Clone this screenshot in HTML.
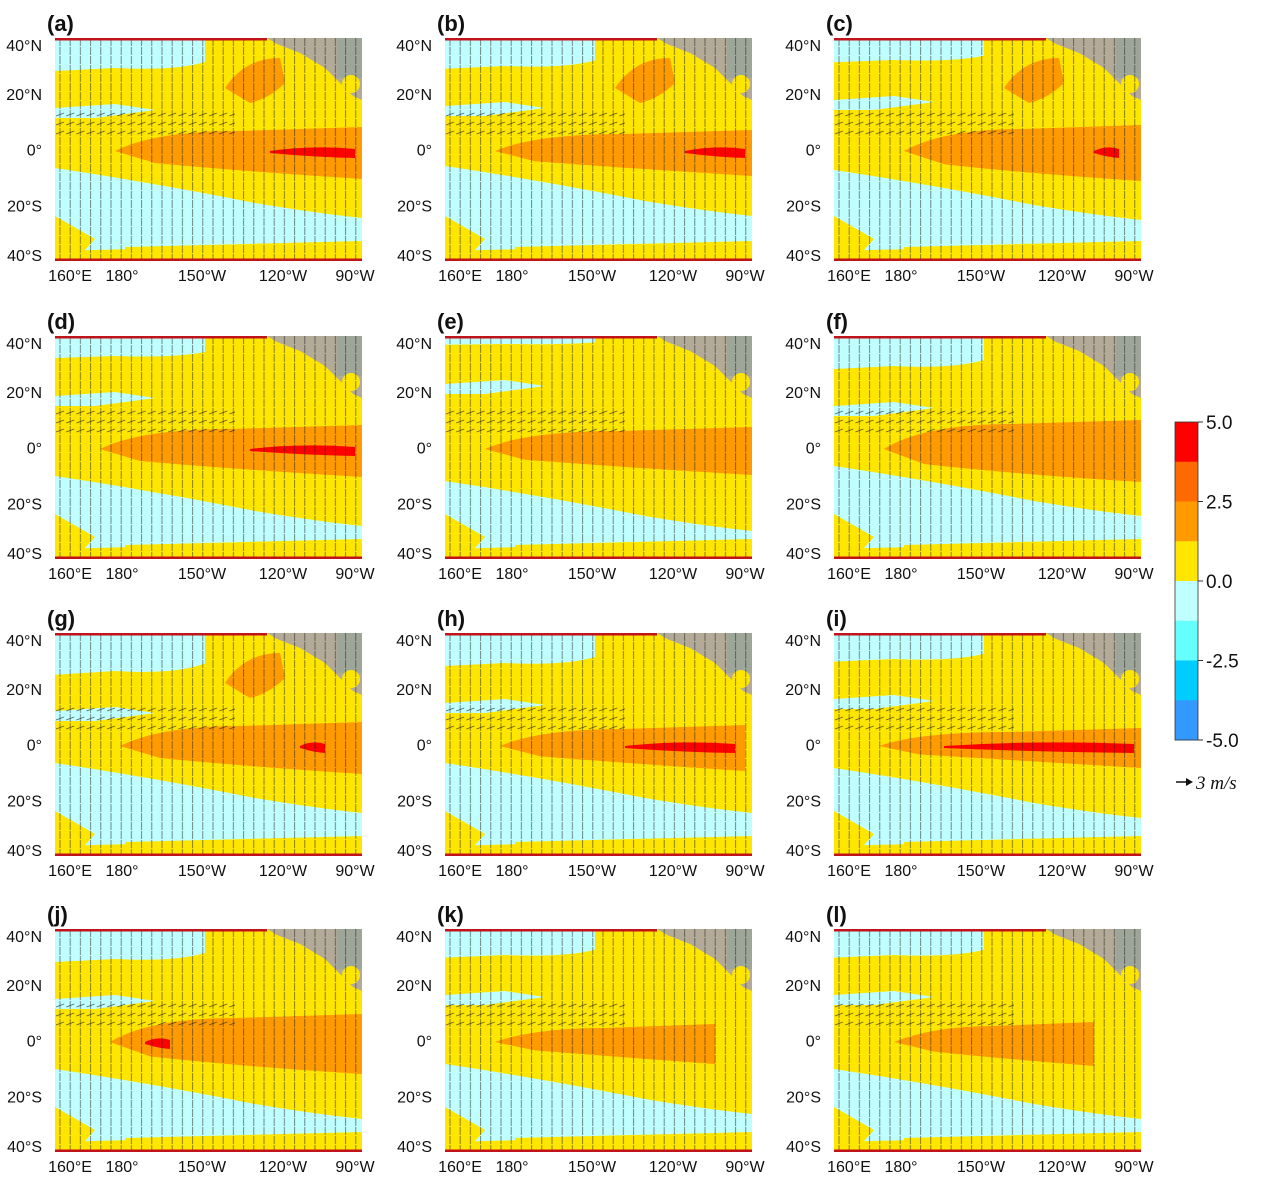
<!DOCTYPE html>
<html><head><meta charset="utf-8">
<style>
body{margin:0;background:#fff;width:1263px;height:1185px;overflow:hidden;font-family:"Liberation Sans",sans-serif}
svg{position:absolute;left:0;top:0}
</style></head>
<body>
<svg id="fig" width="1263" height="1185" xmlns="http://www.w3.org/2000/svg">
<defs>
<pattern id="vticks" width="10.2" height="9" patternUnits="userSpaceOnUse">
<line x1="5" y1="0" x2="5" y2="8" stroke="#222" stroke-width="0.9"/>
</pattern>
<pattern id="hticks" width="10.2" height="9" patternUnits="userSpaceOnUse">
<line x1="1" y1="6" x2="9" y2="3" stroke="#222" stroke-width="0.9"/>
</pattern>
</defs>
</svg>
<script>
// panel data
const panelLabels=['(a)','(b)','(c)','(d)','(e)','(f)','(g)','(h)','(i)','(j)','(k)','(l)'];
const bandStart=[60,50,70,45,40,50,65,55,45,55,50,60];
const bandEnd=[307,307,307,307,307,307,307,300,307,307,270,260];
const bandHalf=[20,17,22,20,18,25,20,17,14,24,14,16];
const redStart=[215,240,260,195,0,0,245,180,110,90,0,0];
const redEnd=[300,300,285,300,0,0,270,290,300,115,0,0];
const neBlob=[1,1,1,0,0,0,1,0,0,0,0,0];
const northCyan=[30,28,22,20,8,30,38,30,26,30,26,26];
const southCyan=[150,148,152,160,165,150,150,150,155,160,155,160];
const latTicks=['40°N','20°N','0°','20°S','40°S'];
const lonTicks=['160°E','180°','150°W','120°W','90°W'];
const lonTickPos=[15,67,147,228,300];
const cbLabels=['5.0','2.5','0.0','-2.5','-5.0'];
const cbColors=['#ff0000','#ff6a00','#ff9a00','#ffe600','#c0ffff','#66ffff','#00ccff','#3399ff'];

const NS='http://www.w3.org/2000/svg';
const fig=document.getElementById('fig');
function el(t,a,p){const e=document.createElementNS(NS,t);for(const k in a)e.setAttribute(k,a[k]);(p||fig).appendChild(e);return e;}
const colX=[55,445,834],rowY=[38,336,633,929],W=307,H=223;
const latY=v=>v/4*H;

panelLabels.forEach((lab,i)=>{
  const x0=colX[i%3],y0=rowY[Math.floor(i/3)];
  const g=el('g',{transform:`translate(${x0},${y0})`});
  
  
  el('rect',{x:0,y:0,width:W,height:H,fill:'#ffe600'},g);
  const n=northCyan[i];
  el('path',{d:`M0,0 L150,0 L150,${n*0.8} Q120,${n*1.1} 60,${n} L0,${n*1.1} Z`,fill:'#c0ffff'},g);
  el('path',{d:`M0,${n+40} L60,${n+36} L100,${n+42} L40,${n+50} L0,${n+50} Z`,fill:'#c0ffff'},g);
  const s=southCyan[i];
  el('path',{d:`M0,${s-20} Q100,${s-5} 200,${s+15} Q260,${s+25} ${W},${s+30} L${W},${H-18} L0,${H-10} Z`,fill:'#c0ffff'},g);
  el('path',{d:`M0,${H-45} L40,${H-22} L20,${H} L0,${H} Z`,fill:'#ffe600'},g);
  el('path',{d:`M70,${H-14} L${W},${H-20} L${W},${H} L70,${H} Z`,fill:'#ffe600'},g);
  const eq=113,bh=bandHalf[i],bs=bandStart[i],be=bandEnd[i];
  el('path',{d:`M${bs},${eq} Q${bs+40},${eq-bh} ${(bs+be)/2},${eq-bh} L${be},${eq-bh-4} L${be},${eq+bh+8} Q${(bs+be)/2},${eq+bh} ${bs+40},${eq+bh*0.6} Z`,fill:'#ff9a00'},g);
  if(redEnd[i]>0) el('path',{d:`M${redStart[i]},${eq} Q${(redStart[i]+redEnd[i])/2},${eq-6} ${redEnd[i]},${eq-2} L${redEnd[i]},${eq+7} Q${(redStart[i]+redEnd[i])/2},${eq+6} ${redStart[i]},${eq+2} Z`,fill:'#ff0000'},g);
  if(neBlob[i]) el('path',{d:'M170,50 Q190,20 225,20 L230,45 Q215,60 195,65 Z',fill:'#ff9a00'},g);
  const land=el('path',{d:`M212,0 L${W},0 L${W},62 L298,58 L285,45 L270,30 L245,15 L222,6 Z`,fill:'#b3aa98'},g);
  
  
  el('rect',{x:282,y:0,width:25,height:40,fill:'#8fa49a',opacity:0.6},g);
  el('circle',{cx:296,cy:46,r:9,fill:'#ffe600'},g);
  el('rect',{x:0,y:0,width:W,height:H,fill:'url(#vticks)',opacity:0.6},g);
  el('rect',{x:0,y:70,width:180,height:30,fill:'url(#hticks)',opacity:0.7},g);
  el('rect',{x:0,y:0,width:212,height:2.5,fill:'#c0141a'},g);
  el('rect',{x:0,y:H-2.5,width:W,height:2.5,fill:'#c0141a'},g);
  const t=el('text',{x:-8,y:-7,'font-size':22,'font-weight':'bold',fill:'#111'},g);
  t.textContent=lab;
  
  
  latTicks.forEach((lt,k)=>{
    const tt=el('text',{x:-13,y:latY(k)+(k==0?13:k==4?0:6),'font-size':16,'text-anchor':'end',fill:'#111'},g);
    tt.textContent=lt;
    
    
  });
  lonTicks.forEach((lt,k)=>{
    const tt=el('text',{x:lonTickPos[k],y:H+20,'font-size':16,'text-anchor':'middle',fill:'#111'},g);
    tt.textContent=lt;
    
    
  });
});
const cb=el('g',{});


const cbTop=422,cbH=318,cbX=1175;
cbColors.forEach((c,k)=>{el('rect',{x:cbX,y:cbTop+k*cbH/cbColors.length,width:23,height:cbH/cbColors.length+0.5,fill:c},cb);});
el('rect',{x:cbX,y:cbTop,width:23,height:cbH,fill:'none',stroke:'#333','stroke-width':0.8},cb);
cbLabels.forEach((l,k)=>{
  const y=cbTop+k*cbH/4;
  el('line',{x1:cbX+23,x2:cbX+28,y1:y,y2:y,stroke:'#333'},cb);
  const t=el('text',{x:cbX+31,y:y+7,'font-size':19,fill:'#111'},cb);
  t.textContent=l;
  
  
});
const ref=el('g',{});


el('line',{x1:1176,y1:782,x2:1190,y2:782,stroke:'#111','stroke-width':1.5},ref);
el('path',{d:'M1193,782 L1186,778 L1186,786 Z',fill:'#111'},ref);
const rt=el('text',{x:1196,y:789,'font-size':19,'font-style':'italic','font-family':'Liberation Serif, serif',fill:'#111'},ref);
rt.textContent='3 m/s';
</script>
</body></html>
